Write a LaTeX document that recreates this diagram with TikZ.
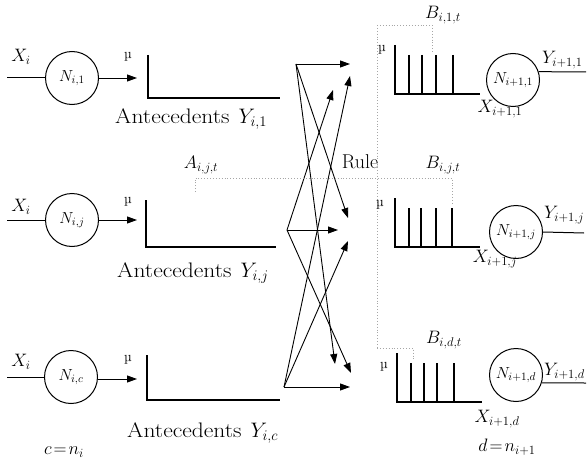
\IfFileExists{fix-cm.sty}{\RequirePackage{fix-cm}}{}
\documentclass[tikz,border=0pt]{standalone}
\usepackage{graphicx}
\usetikzlibrary{arrows.meta}
\newcommand\myfs[1]{\fontsize{#1}{#1}\selectfont}
\newcommand\antetext[1]{\scalebox{1.12}[1]{Antecedents}\hspace{9pt}$#1$}
\begin{document}
\begin{tikzpicture}[x=1pt,y=-1pt,
  neuron/.style={draw, circle, line width=1pt, minimum size=53pt, inner sep=0pt, font=\myfs{16}},
  axis/.style={line width=1.2pt},
  spike/.style={line width=1.1pt},
  link/.style={line width=0.9pt, -{Triangle[length=10pt,width=7pt]}},
  wire/.style={line width=1pt},
  guide/.style={black!35, dotted, line width=0.9pt},
  lbl/.style={inner sep=0pt, font=\myfs{18}},
  mu/.style={inner sep=0pt, font=\myfs{14}},
  ante/.style={inner sep=0pt, anchor=west, font=\myfs{21}}]
\useasboundingbox (0,0) rectangle (588,468);

% ---------- left neurons ----------
\node[neuron] (n1) at (72,78) {$N_{i,1}$};
\node[neuron] (n2) at (72,220) {$N_{i,j}$};
\node[neuron] (n3) at (71,377) {$N_{i,c}$};
\coordinate (in1) at (7,78);
\coordinate (in2) at (7,220);
\coordinate (in3) at (7,377);
\draw[wire] (in1) -- (n1);
\draw[wire] (in2) -- (n2);
\draw[wire] (in3) -- (n3);
\node[lbl] (x1) at (21,57) {$X_i$};
\node[lbl] (x2) at (21,207) {$X_i$};
\node[lbl] (x3) at (21,362) {$X_i$};

\coordinate (a1) at (137,78);
\coordinate (a2) at (137,220);
\coordinate (a3) at (137,379);
\draw[link] (n1) -- (a1);
\draw[link] (n2) -- (a2);
\draw[link] (n3.east |- a3) -- (a3);

\node[mu] (m1) at (128,57) {\textmu};
\node[mu] (m2) at (128,202) {\textmu};
\node[mu] (m3) at (128,360) {\textmu};

\draw[axis] (148,55) -- (148,98) -- (280,98);
\draw[axis] (146,200) -- (146,247) -- (276,247);
\draw[axis] (147,355) -- (147,400) -- (280,400);

\node[ante] (t1) at (115,119) {\antetext{Y_{i,1}}};
\node[ante] (t2) at (117,273) {\antetext{Y_{i,j}}};
\node[ante] (t3) at (127,433) {\antetext{Y_{i,c}}};

\node[lbl] (cn) at (64,452) {$c\!=\!n_i$};

% ---------- rule connections ----------
\coordinate (s1) at (296,64);
\coordinate (s2) at (287,230);
\coordinate (s3) at (284,387);
\coordinate (t11) at (350,64);
\coordinate (t12) at (333,90);
\coordinate (t13) at (350,76);
\coordinate (t21) at (348,218);
\coordinate (t22) at (338,230);
\coordinate (t23) at (348,241);
\coordinate (t31) at (335,364);
\coordinate (t32) at (351,373);
\coordinate (t33) at (350,387);
\draw[link] (s1) -- (t11);
\draw[link] (s1) -- (t21);
\draw[link] (s1) -- (t31);
\draw[link] (s2) -- (t22);
\draw[link] (s2) -- (t12);
\draw[link] (s2) -- (t32);
\draw[link] (s3) -- (t33);
\draw[link] (s3) -- (t13);
\draw[link] (s3) -- (t23);

\node[inner sep=0pt, font=\myfs{20}] (rule) at (360,162) {Rule};

% ---------- dotted guides ----------
\draw[guide] (377,25) -- (377,348);
\draw[guide] (377,25) -- (432,25) -- (432,52);
\draw[guide] (195,192) -- (195,178) -- (452,178) -- (452,205);
\draw[guide] (377,348) -- (413,348) -- (413,360);

\node[lbl] (ab) at (201,165) {$A_{i,j,t}$};
\node[lbl] (b1) at (443,15) {$B_{i,1,t}$};
\node[lbl] (b2) at (443,165) {$B_{i,j,t}$};
\node[lbl] (b3) at (444,340) {$B_{i,d,t}$};

% ---------- consequent charts ----------
\node[mu] (r1) at (382,50) {\textmu};
\node[mu] (r2) at (380,205) {\textmu};
\node[mu] (r3) at (384,367) {\textmu};

\draw[axis] (395,45) -- (395,94) -- (480,94);
\foreach \x in {409,422,436,453} \draw[spike] (\x,55) -- (\x,94);
\draw[axis] (395,198) -- (395,247) -- (480,247);
\foreach \x in {409,421,436,452} \draw[spike] (\x,208) -- (\x,247);
\draw[axis] (397,353) -- (397,402) -- (482,402);
\foreach \x in {411,424,437,454} \draw[spike] (\x,363) -- (\x,402);

\node[lbl] (xo1) at (500,109) {$X_{i+1,1}$};
\node[lbl] (xo2) at (495,259) {$X_{i+1,j}$};
\node[lbl] (xo3) at (497,419) {$X_{i+1,d}$};

% ---------- right neurons ----------
\node[neuron] (o1) at (513,80) {$N_{i+1,1}$};
\node[neuron] (o2) at (516,232) {$N_{i+1,j}$};
\node[neuron] (o3) at (516,375) {$N_{i+1,d}$};
\coordinate (e1) at (586,72);
\coordinate (e2) at (584,233);
\coordinate (e3) at (586,383);
\draw[wire] (o1.18) -- (e1);
\draw[wire] (o2.east) -- (e2);
\draw[wire] (o3.-17) -- (e3);
\node[lbl, anchor=west] (y1) at (542,60) {$Y_{i+1,1}$};
\node[lbl, anchor=west] (y2) at (544,215) {$Y_{i+1,j}$};
\node[lbl, anchor=west] (y3) at (544,372) {$Y_{i+1,d}$};

\node[lbl] (dn) at (507,447) {$d\!=\!n_{i+1}$};
\end{tikzpicture}
\end{document}
